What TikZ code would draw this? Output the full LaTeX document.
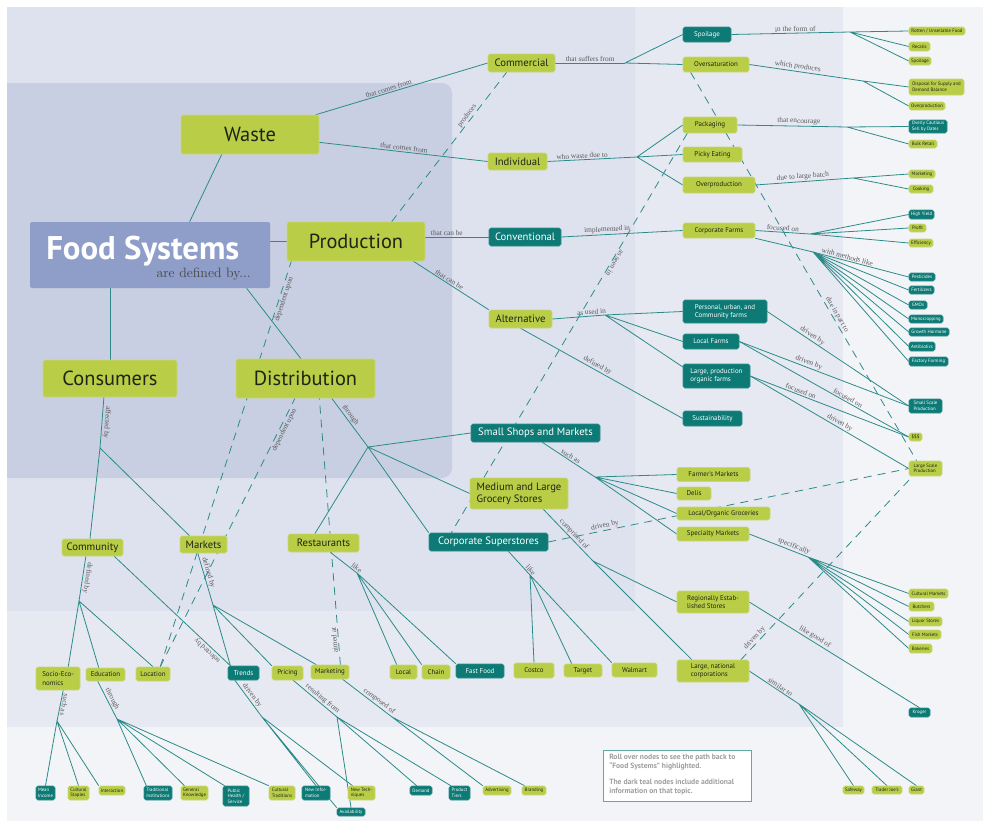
\documentclass[tikz,border=0pt]{standalone}
\usepackage{fontspec}
\newfontfamily\nodefont{PT Sans}
\newfontfamily\lblfont{Liberation Serif}
\usetikzlibrary{calc}

\definecolor{limeC}{HTML}{B9CD47}
\definecolor{limeEdge}{HTML}{C9D877}
\definecolor{tealC}{HTML}{0D7A75}
\definecolor{tealEdge}{HTML}{2F8F8A}
\definecolor{linkC}{HTML}{2C8B89}
\definecolor{nodeText}{HTML}{1E2418}
\definecolor{lblC}{HTML}{5A5A5A}
\definecolor{fsC}{HTML}{8E9EC8}
\definecolor{fsSub}{HTML}{4A4A4A}
\definecolor{panelA}{HTML}{F3F4F8}
\definecolor{panelB}{HTML}{E6E9F2}
\definecolor{panelC}{HTML}{DEE2EE}
\definecolor{panelD}{HTML}{C8CFE2}
\definecolor{infoEdge}{HTML}{5FAAA5}
\definecolor{infoText}{HTML}{9E9E9E}

\pgfdeclarelayer{bg}
\pgfdeclarelayer{edges}
\pgfsetlayers{bg,edges,main}

\tikzset{
  bx/.style 2 args={minimum width=#1*0.75pt, minimum height=#2*0.75pt},
  boxbase/.style={inner sep=0pt, rounded corners=1.3pt, align=left, line width=0.4pt},
  limebox/.style={boxbase, fill=limeC, draw=limeEdge, text=nodeText},
  tealbox/.style={boxbase, fill=tealC, draw=tealEdge, text=white},
  fsbox/.style={inner sep=0pt, rounded corners=1.5pt, fill=fsC},
  bigtxt/.style={font=\nodefont\fontsize{15.3}{17}\selectfont},
  midtxt/.style={font=\nodefont\fontsize{8}{9}\selectfont},
  smltxt/.style={font=\nodefont\fontsize{5.2}{6.25}\selectfont},
  leaftxt/.style={font=\nodefont\fontsize{3.6}{4.1}\selectfont},
  link/.style={draw=linkC, line width=0.6pt},
  dlink/.style={link, dash pattern=on 6pt off 4.5pt},
  lbl/.style={font=\lblfont\fontsize{5.5}{6}\selectfont, text=lblC, sloped, allow upside down, inner sep=0.8pt},
  infobox/.style={fill=white, draw=infoEdge, line width=0.6pt},
  infotxt/.style={font=\nodefont\bfseries\fontsize{5.7}{6.75}\selectfont, text=infoText, align=left, inner sep=0pt}
}

\begin{document}
\begin{tikzpicture}[x=0.75pt,y=-0.75pt]
\useasboundingbox (0,0) rectangle (983,821);

% ---------- background panels ----------
\begin{pgfonlayer}{bg}
  \fill[white] (0,0) rectangle (983,821);
  \fill[panelA] (7,7) rectangle (983,821);
  \fill[panelB] (7,7) rectangle (843,727);
  \fill[panelC] (7,7) rectangle (635,611);
  \begin{scope}
    \clip (7,7) rectangle (983,821);
    \fill[panelD, rounded corners=7.5pt] (-10,83) rectangle (452,478);
  \end{scope}
\end{pgfonlayer}

% ---------- main concepts ----------
\node[fsbox, bx={240}{66}] (fs) at (150,255) {};
\node[anchor=base west, font=\nodefont\bfseries\fontsize{24.6}{26}\selectfont, text=white, inner sep=0pt] (fstitle) at (46,259) {Food Systems};
\node[anchor=base east, font=\fontsize{10.2}{12}\selectfont, text=fsSub, inner sep=0pt] (fssub) at (251,277) {are defined by...};
\node[limebox, bigtxt, bx={138}{39}] (waste) at (250,134.5) {Waste};
\node[limebox, bigtxt, bx={138}{39}] (prod) at (356,241.5) {Production};
\node[limebox, bigtxt, bx={134}{37}] (cons) at (110,378.5) {Consumers};
\node[limebox, bigtxt, bx={139}{39}] (dist) at (305.5,378.5) {Distribution};

% ---------- second level ----------
\node[limebox, midtxt, bx={67}{18}] (comm) at (521.5,63) {Commercial};
\node[limebox, midtxt, bx={59}{17}] (indiv) at (517.5,161.5) {Individual};
\node[tealbox, midtxt, bx={72}{18}] (conv) at (525,237) {Conventional};
\node[limebox, midtxt, bx={63}{18}] (alt) at (520.5,319) {Alternative};
\node[tealbox, midtxt, bx={129}{18}] (small) at (535.5,433) {Small Shops and Markets};
\node[limebox, midtxt, bx={98}{31}] (medium) at (519,493.5) {Medium and Large\\Grocery Stores};
\node[tealbox, midtxt, bx={119}{18}] (corpsup) at (488.5,542) {Corporate Superstores};
\node[limebox, midtxt, bx={71}{18}] (rest) at (323.5,543) {Restaurants};
\node[limebox, midtxt, bx={47}{17}] (markets) at (203.5,544.5) {Markets};
\node[limebox, midtxt, bx={61}{17}] (community) at (92.5,547.5) {Community};

% ---------- third level, bottom row ----------
\node[limebox, smltxt, bx={44}{23}] (socio) at (58,678.5) {Socio-Eco-\\nomics};
\node[limebox, smltxt, bx={39}{13}] (edu) at (105.5,674.5) {Education};
\node[limebox, smltxt, bx={34}{14}] (loc) at (153,674) {Location};
\node[tealbox, smltxt, bx={31}{14}] (trends) at (243.5,673) {Trends};
\node[limebox, smltxt, bx={31}{14}] (pricing) at (287.5,673) {Pricing};
\node[limebox, smltxt, bx={38}{14}] (mkting) at (330,672) {Marketing};
\node[limebox, smltxt, bx={27}{14}] (local) at (403.5,672) {Local};
\node[limebox, smltxt, bx={28}{14}] (chain) at (436,672) {Chain};
\node[tealbox, smltxt, bx={48}{14}] (fastfood) at (480,671) {Fast Food};
\node[limebox, smltxt, bx={40}{15}] (costco) at (534,670.5) {Costco};
\node[limebox, smltxt, bx={38}{13}] (target) at (583,670.5) {Target};
\node[limebox, smltxt, bx={45}{14}] (walmart) at (634.5,670) {Walmart};

% ---------- third level, right column ----------
\node[tealbox, smltxt, bx={48}{15}] (spoil) at (707,34.5) {Spoilage};
\node[limebox, smltxt, bx={66}{15}] (overs) at (716,64.5) {Oversaturation};
\node[limebox, smltxt, bx={54}{16}] (pack) at (710,125) {Packaging};
\node[limebox, smltxt, bx={59}{15}] (picky) at (712.5,154.5) {Picky Eating};
\node[limebox, smltxt, bx={72}{16}] (overp) at (719,185) {Overproduction};
\node[limebox, smltxt, bx={72}{15}] (corpf) at (719,230.5) {Corporate Farms};
\node[tealbox, smltxt, bx={84}{23}] (personal) at (725,311.5) {Personal, urban, and\\Community farms};
\node[tealbox, smltxt, bx={56}{15}] (localf) at (711,341.5) {Local Farms};
\node[tealbox, smltxt, bx={67}{24}] (largeorg) at (716.5,376) {Large, production\\organic farms};
\node[tealbox, smltxt, bx={59}{15}] (sustain) at (712.5,418.5) {Sustainability};
\node[limebox, smltxt, bx={73}{14}] (farmers) at (713.5,474.5) {Farmer's Markets};
\node[limebox, smltxt, bx={34}{13}] (delis) at (694,493.5) {Delis};
\node[limebox, smltxt, bx={93}{13}] (localorg) at (723.5,513.5) {Local/Organic Groceries};
\node[limebox, smltxt, bx={72}{14}] (special) at (713,534) {Specialty Markets};
\node[limebox, smltxt, bx={72}{22}] (regional) at (713,602) {Regionally Estab-\\lished Stores};
\node[limebox, smltxt, bx={72}{22}] (largenat) at (713,671) {Large, national\\corporations};

% ---------- leaves, right ----------
\node[limebox, leaftxt, bx={56}{8}] (rotten) at (937,31) {Rotten / Unsellable Food};
\node[limebox, leaftxt, bx={21}{9}] (recalls) at (919.5,46.5) {Recalls};
\node[limebox, leaftxt, bx={22}{8}] (spoilleaf) at (920,61) {Spoilage};
\node[limebox, leaftxt, bx={55}{16}] (disposal) at (936.5,87) {Disposal for Supply and\\Demand Balance};
\node[limebox, leaftxt, bx={36}{8}] (overpleaf) at (927,106) {Overproduction};
\node[tealbox, leaftxt, bx={38}{13}] (overly) at (928,126.5) {Overly Cautious\\Sell by Dates};
\node[limebox, leaftxt, bx={28}{8}] (bulk) at (923,144) {Bulk Retail};
\node[limebox, leaftxt, bx={26}{8}] (mktleaf) at (922,174) {Marketing};
\node[limebox, leaftxt, bx={24}{8}] (cooking) at (921,189) {Cooking};
\node[tealbox, leaftxt, bx={25}{9}] (highyield) at (921.5,214.5) {High Yield};
\node[limebox, leaftxt, bx={17}{8}] (profit) at (917.5,228) {Profit};
\node[limebox, leaftxt, bx={24}{8}] (effic) at (921,243) {Efficiency};
\node[tealbox, leaftxt, bx={26}{8}] (pest) at (922,277) {Pesticides};
\node[tealbox, leaftxt, bx={25}{8}] (fert) at (921.5,290) {Fertilizers};
\node[tealbox, leaftxt, bx={18}{8}] (gmo) at (918,305) {GMOs};
\node[tealbox, leaftxt, bx={34}{8}] (mono) at (926,319) {Monocropping};
\node[tealbox, leaftxt, bx={40}{8}] (growth) at (929,332) {Growth Hormone};
\node[tealbox, leaftxt, bx={26}{9}] (antib) at (922,346.5) {Antibiotics};
\node[tealbox, leaftxt, bx={39}{9}] (factory) at (928.5,361.5) {Factory Farming};
\node[tealbox, leaftxt, bx={33}{14}] (smallscale) at (925.5,406) {Small Scale\\Production};
\node[limebox, leaftxt, bx={13}{8}] (money) at (915.5,437) {\$\$\$};
\node[limebox, leaftxt, bx={33}{15}] (largescale) at (925.5,468.5) {Large Scale\\Production};
\node[limebox, leaftxt, bx={39}{9}] (cultmk) at (928.5,593.5) {Cultural Markets};
\node[limebox, leaftxt, bx={25}{9}] (butchers) at (921.5,606.5) {Butchers};
\node[limebox, leaftxt, bx={33}{9}] (liquor) at (925.5,621.5) {Liquor Stores};
\node[limebox, leaftxt, bx={32}{9}] (fish) at (925,634.5) {Fish Markets};
\node[limebox, leaftxt, bx={23}{9}] (bakeries) at (920.5,648.5) {Bakeries};
\node[tealbox, leaftxt, bx={21}{9}] (kroger) at (919.5,712.5) {Kroger};
\node[limebox, leaftxt, bx={21}{8}] (safeway) at (853.5,790) {Safeway};
\node[limebox, leaftxt, bx={30}{8}] (trader) at (887,790) {Trader Joe's};
\node[limebox, leaftxt, bx={15}{8}] (giant) at (916.5,790) {Giant};

% ---------- leaves, bottom ----------
\node[tealbox, leaftxt, bx={19}{14}] (meaninc) at (45.5,793) {Mean\\Income};
\node[limebox, leaftxt, bx={21}{14}] (cultstap) at (78.5,793) {Cultural\\Staples};
\node[limebox, leaftxt, bx={26}{9}] (interact) at (112,790.5) {Interaction};
\node[tealbox, leaftxt, bx={28}{14}] (tradinst) at (158,793) {Traditional\\Institutions};
\node[limebox, leaftxt, bx={27}{14}] (genknow) at (194.5,793) {General\\Knowledge};
\node[tealbox, leaftxt, bx={26}{20}] (pubhealth) at (236,796) {Public\\Health /\\Service};
\node[limebox, leaftxt, bx={26}{14}] (culttrad) at (282,793) {Cultural\\Traditions};
\node[tealbox, leaftxt, bx={28}{14}] (newinfo) at (316,793) {New Infor-\\mation};
\node[limebox, leaftxt, bx={27}{14}] (newtech) at (361.5,793) {New Tech-\\niques};
\node[tealbox, leaftxt, bx={28}{8}] (avail) at (351,812) {Availability};
\node[tealbox, leaftxt, bx={22}{9}] (demand) at (421,790.5) {Demand};
\node[tealbox, leaftxt, bx={21}{14}] (prodtiers) at (459.5,793) {Product\\Tiers};
\node[limebox, leaftxt, bx={28}{9}] (advert) at (497,790.5) {Advertising};
\node[limebox, leaftxt, bx={24}{9}] (branding) at (534,790.5) {Branding};

% ---------- info box ----------
\node[infobox, bx={148}{51}] (info) at (677,775.5) {};
\node[infotxt, anchor=north west] (infotext) at (609,753.5) {Roll over nodes to see the path back to\\“Food Systems” highlighted.\\[5.5pt]The dark teal nodes include additional\\information on that topic.};

% ---------- branch points ----------
\coordinate (jComm) at (625,63);
\coordinate (jIndiv) at (637,157);
\coordinate (jSpoil) at (850,32);
\coordinate (jOvers) at (863,81);
\coordinate (jPack) at (847,127);
\coordinate (jOverp) at (853,178);
\coordinate (jFocus) at (810,234);
\coordinate (jMethods) at (813,252);
\coordinate (jAlt) at (605,315);
\coordinate (jDist) at (368,447);
\coordinate (jSmall) at (595,477);
\coordinate (jMed) at (593,561);
\coordinate (jCorp) at (530,575);
\coordinate (jRest) at (357,573);
\coordinate (jCons) at (100,448);
\coordinate (jComty) at (79,601);
\coordinate (jMark) at (213,605);
\coordinate (jTrends) at (262,717);
\coordinate (jPricing) at (337,717);
\coordinate (jMkting) at (392,717);
\coordinate (jSocio) at (57,721);
\coordinate (jEdu) at (117,719);
\coordinate (jSpec) at (808,557);
\coordinate (jLargeNat) at (799,704);

% ---------- connectors ----------
\begin{pgfonlayer}{edges}
% from the root
\draw[link] (fs.40) -- (waste.215);
\draw[link] (prod.west -| fs.east) -- (prod.west);
\draw[link] (fs.south -| cons.north) -- (cons.north);
\draw[link] (fs.341) -- (dist.103);

% waste
\draw[link] (waste) -- node[lbl, above, pos=.43] {that comes from} (comm.west);
\draw[link] (waste) -- node[lbl, above, pos=.5] {that comes from} (indiv.west);
\draw[link] (comm.east) -- node[lbl, above, pos=.5] {that suffers from} (jComm);
\draw[link] (jComm) -- (spoil.west) (jComm) -- (overs.west);
\draw[link] (indiv.east) -- node[lbl, above, pos=.39] {who waste due to} (jIndiv);
\draw[link] (jIndiv) -- (pack.west) (jIndiv) -- (picky.west) (jIndiv) -- (overp.west);
\draw[link] (spoil.east) -- node[lbl, above, pos=.54] {in the form of} (jSpoil);
\draw[link] (jSpoil) -- (rotten.west) (jSpoil) -- (recalls.west) (jSpoil) -- (spoilleaf.west);
\draw[link] (overs.east) -- node[lbl, above, pos=.42] {which produces} (jOvers);
\draw[link] (jOvers) -- (disposal.west) (jOvers) -- (overpleaf.west);
\draw[link] (pack.east) -- node[lbl, above, pos=.56] {that encourage} (jPack);
\draw[link] (jPack) -- (overly.west) (jPack) -- (bulk.west);
\draw[link] (overp.east) -- node[lbl, above, pos=.49] {due to large batch} (jOverp);
\draw[link] (jOverp) -- (mktleaf.west) (jOverp) -- (cooking.west);

% production
\draw[link] (conv.west -| prod.east) -- node[lbl, above, pos=.34] {that can be} (conv.west);
\draw[link] (prod.341) -- node[lbl, above, pos=.45] {that can be} (alt.north west);
\draw[link] (conv.east) -- node[lbl, above, pos=.38] {implemented in} (corpf.west);
\draw[link] (corpf.east) -- node[lbl, above, pos=.5] {focused on} (jFocus);
\draw[link] (jFocus) -- (highyield.west) (jFocus) -- (profit.west) (jFocus) -- (effic.west);
\draw[link] (corpf.south east) -- (jMethods);
\draw[link] (jMethods) -- node[lbl, above, pos=.35] {with methods like} (pest.west);
\draw[link] (jMethods) -- (fert.west) (jMethods) -- (gmo.west) (jMethods) -- (mono.west)
  (jMethods) -- (growth.west) (jMethods) -- (antib.west) (jMethods) -- (factory.west);
\draw[link] (alt.east) -- node[lbl, above, pos=.75] {as used in} (jAlt);
\draw[link] (jAlt) -- (personal.west) (jAlt) -- (localf.west) (jAlt) -- (largeorg.165);
\draw[link] (alt.south) -- node[lbl, above, pos=.46] {defined by} (sustain.west);
\draw[link] (personal.east) -- node[lbl, above, pos=.3] {driven by} (smallscale.west);
\draw[link] (localf.east) -- node[lbl, above, pos=.4] {driven by} (smallscale.west);
\draw[link] (localf.east) -- node[lbl, above, pos=.63] {focused on} (money.west);
\draw[link] (largeorg.east) -- node[lbl, above, pos=.31] {focused on} (money.west);
\draw[link] (largeorg.east) -- node[lbl, above, pos=.55] {driven by} (largescale.west);

% distribution
\draw[link] (dist.323) -- node[lbl, above, pos=.41] {through} (jDist);
\draw[link] (jDist) -- (small.west) (jDist) -- (medium.west) (jDist) -- (corpsup.north west) (jDist) -- (rest.133);
\draw[link] (small.306) -- node[lbl, above, pos=.5] {such as} (jSmall);
\draw[link] (jSmall) -- (farmers.west) (jSmall) -- (delis.west) (jSmall) -- (localorg.west) (jSmall) -- (special.west);
\draw[link] (medium.327) -- node[lbl, above, pos=.55] {comprised of} (jMed);
\draw[link] (jMed) -- (regional.west) (jMed) -- (largenat.152);
\draw[link] (corpsup.335) -- node[lbl, above, pos=.9] {like} (jCorp);
\draw[link] (jCorp) -- (costco.north) (jCorp) -- (target.149) (jCorp) -- (walmart.north west);
\draw[link] (rest.306) -- node[lbl, above, pos=.9] {like} (jRest);
\draw[link] (jRest) -- (local.133) (jRest) -- (chain.north west) (jRest) -- (fastfood.north west);
\draw[link] (special.east) -- node[lbl, above, pos=.73] {specifically} (jSpec);
\draw[link] (jSpec) -- (cultmk.west) (jSpec) -- (butchers.west) (jSpec) -- (liquor.west) (jSpec) -- (fish.west) (jSpec) -- (bakeries.west);
\draw[link] (regional.east) -- node[lbl, above, pos=.37] {like good of} (kroger.north);
\draw[link] (largenat.east) -- node[lbl, above, pos=.58] {similar to} (jLargeNat);
\draw[link] (jLargeNat) -- (safeway.north) (jLargeNat) -- (trader.north) (jLargeNat) -- (giant.north);

% consumers
\draw[link] (cons.252) -- node[lbl, above, pos=.49] {affected by} (jCons);
\draw[link] (jCons) -- (community.106) (jCons) -- (markets.148);
\draw[link] (community.233) -- node[lbl, above, pos=.47] {defined by} (jComty);
\draw[link] (jComty) -- (socio.49) (jComty) -- (edu.135) (jComty) -- (loc.north);
\draw[link] (trends.151) -- node[lbl, above, pos=.17] {selected by} (community.338);
\draw[link] (markets.237) -- node[lbl, above, pos=.4] {defined by} (jMark);
\draw[link] (jMark) -- (trends.151) (jMark) -- (pricing.north west) (jMark) -- (mkting.152);
\draw[link] (socio.294) -- node[lbl, above, pos=.45] {such as} (jSocio);
\draw[link] (jSocio) -- (meaninc.north) (jSocio) -- (cultstap.north) (jSocio) -- (interact.north west);
\draw[link] (edu.221) -- node[lbl, above, pos=.53] {through} (jEdu);
\draw[link] (jEdu) -- (tradinst.148) (jEdu) -- (genknow.144) (jEdu) -- (pubhealth.138) (jEdu) -- (culttrad.north west);
\draw[link] (trends.220) -- node[lbl, above, pos=.49] {driven by} (jTrends);
\draw[link] (jTrends) -- (newinfo.north) (jTrends) -- (newtech.141) (jTrends) -- (avail.north west);
\draw[link] (pricing.308) -- node[lbl, above, pos=.6] {resulting from} (jPricing);
\draw[link] (jPricing) -- (avail.north) (jPricing) -- (demand.132) (jPricing) -- (prodtiers.140);
\draw[link] (mkting.330) -- node[lbl, above, pos=.68] {composed of} (jMkting);
\draw[link] (jMkting) -- (advert.north west) (jMkting) -- (branding.153);

% cross links
\draw[dlink] (prod.29) -- node[lbl, above, pos=.69] {produces} (comm.212);
\draw[dlink] (loc.45) -- node[lbl, below, pos=.91] {dependent upon} (prod.197);
\draw[dlink] (loc.45) -- node[lbl, below, pos=.89] {dependent upon} (dist.242);
\draw[dlink] (mkting.35) -- node[lbl, above, pos=.094] {aimed at} (dist.305);
\draw[dlink] (pack.200) -- node[lbl, above, pos=.32] {as seen in} (corpsup.166);
\draw[dlink] (overs.197) -- node[lbl, above, pos=.63] {due in part to} (largescale.139);
\draw[dlink] (corpsup.east) -- node[lbl, above, pos=.16] {driven by} (largescale.west);
\draw[dlink] (largenat.22) -- node[lbl, above, pos=.1] {driven by} (largescale.211);
\end{pgfonlayer}

\end{tikzpicture}
\end{document}
